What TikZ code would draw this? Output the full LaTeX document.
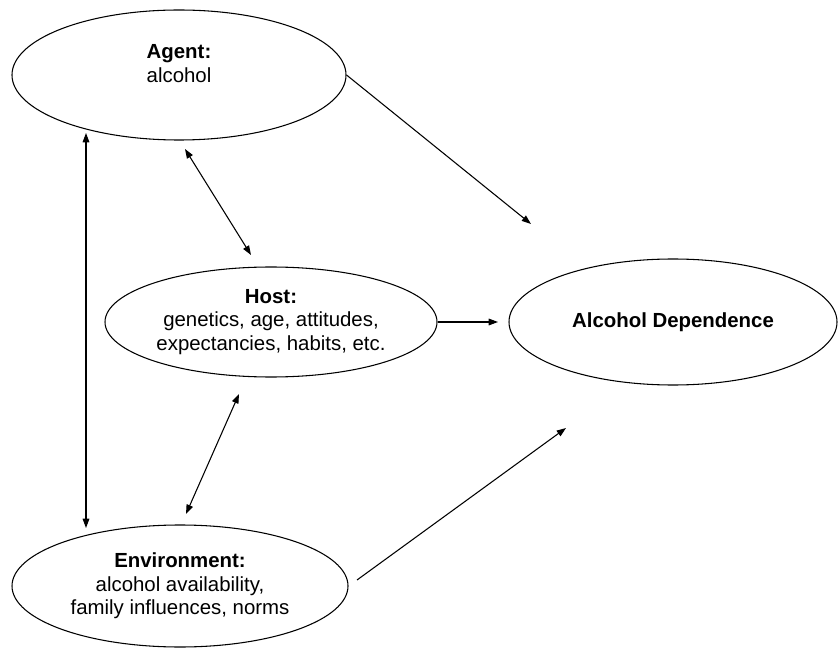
\documentclass[tikz,border=0pt]{standalone}
\usepackage{fontspec}
\setmainfont{Liberation Sans}
\usetikzlibrary{shapes.geometric,arrows.meta}
\begin{document}
\begin{tikzpicture}[x=0.75pt,y=-0.75pt,
  factor/.style={draw,ellipse,line width=0.8pt,inner sep=0pt,align=center,
    font=\fontsize{15.3}{17.6}\selectfont},
  link/.style={line width=0.8pt,-{Triangle[length=7pt,width=5pt]}},
  twoway/.style={line width=0.8pt,{Triangle[length=7pt,width=5pt]}-{Triangle[length=7pt,width=5pt]}}]
  \useasboundingbox (0,0) rectangle (838,648);
  \node[factor,minimum width=250.5pt,minimum height=97.5pt] (agent) at (179,75) {\textbf{Agent:}\\alcohol\\~};
  \node[factor,minimum width=249pt,minimum height=82.5pt] (host) at (271,322) {\textbf{Host:}\\genetics, age, attitudes,\\expectancies, habits, etc.};
  \node[factor,minimum width=252pt,minimum height=91.5pt] (env) at (180,586) {\textbf{Environment:}\\alcohol availability,\\family influences, norms};
  \node[factor,minimum width=246pt,minimum height=94.5pt] (dep) at (673,322) {\textbf{Alcohol Dependence}};
  \coordinate (agdep) at (531,224);
  \coordinate (hostdep) at (498,322);
  \coordinate (envout) at (357,580);
  \coordinate (envdep) at (566,428);
  \coordinate (aghostA) at (185,149);
  \coordinate (aghostB) at (251,255);
  \coordinate (hostenvA) at (239,394);
  \coordinate (hostenvB) at (186,514);
  \coordinate (agenvA) at (86,133);
  \coordinate (agenvB) at (86,528);
  \draw[link] (agent.east) -- (agdep);
  \draw[link] (host.east) -- (hostdep);
  \draw[link] (envout) -- (envdep);
  \draw[twoway] (aghostA) -- (aghostB);
  \draw[twoway] (hostenvA) -- (hostenvB);
  \draw[twoway] (agenvA) -- (agenvB);
\end{tikzpicture}
\end{document}
